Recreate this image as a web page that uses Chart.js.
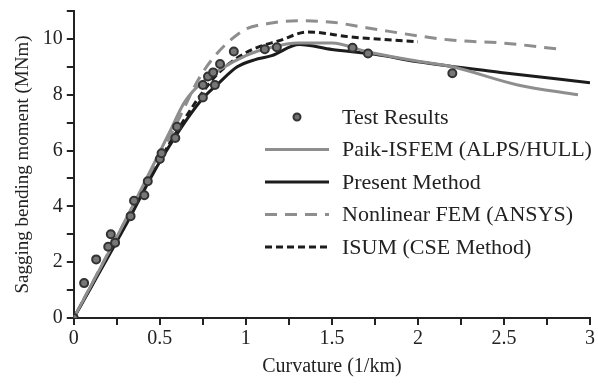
<!DOCTYPE html>
<html>
<head>
<meta charset="utf-8">
<script src="https://cdn.jsdelivr.net/npm/chart.js@4"></script>
<style>
  html, body { margin: 0; padding: 0; background: #fff; }
  #wrap { width: 598px; height: 387px; }
</style>
</head>
<body>
<div id="wrap"><canvas id="chart"></canvas></div>
<script>
// test points
const test_x = [0, 0.06, 0.13, 0.2, 0.215, 0.24, 0.33, 0.35, 0.41, 0.43, 0.5, 0.51, 0.59, 0.6, 0.75, 0.75, 0.78, 0.81, 0.82, 0.85, 0.93, 1.11, 1.18, 1.62, 1.71, 2.2];
const test_y = [0, 1.25, 2.1, 2.55, 3.0, 2.7, 3.65, 4.2, 4.4, 4.9, 5.7, 5.9, 6.45, 6.85, 7.9, 8.35, 8.65, 8.8, 8.35, 9.1, 9.55, 9.63, 9.7, 9.68, 9.48, 8.77];

const paik_x = [0, 0.3, 0.56, 0.64, 0.72, 0.85, 1.0, 1.15, 1.3, 1.5, 1.7, 1.95, 2.2, 2.58, 2.93];
const paik_y = [0, 3.5, 6.7, 7.7, 8.3, 8.9, 9.4, 9.7, 9.85, 9.85, 9.55, 9.25, 9.0, 8.35, 8.0];

const present_x = [0, 0.3, 0.5, 0.74, 0.84, 0.95, 1.05, 1.15, 1.31, 1.5, 1.75, 2.0, 2.48, 3.0];
const present_y = [0, 3.3, 5.6, 7.8, 8.4, 9.0, 9.25, 9.4, 9.8, 9.62, 9.45, 9.18, 8.8, 8.43];

const fem_x = [0, 0.3, 0.6, 0.72, 0.8, 0.9, 1.0, 1.13, 1.3, 1.5, 1.7, 2.19, 2.5, 2.81];
const fem_y = [0, 3.5, 7.0, 8.5, 9.24, 9.9, 10.35, 10.55, 10.65, 10.6, 10.4, 9.96, 9.85, 9.64];

const isum_x = [0, 0.3, 0.6, 0.8, 0.9, 1.03, 1.2, 1.36, 1.61, 2.0];
const isum_y = [0, 3.4, 6.7, 8.5, 9.1, 9.6, 9.95, 10.25, 10.07, 9.9];

const series_labels = ['Test Results', 'Paik-ISFEM (ALPS/HULL)', 'Present Method', 'Nonlinear FEM (ANSYS)', 'ISUM (CSE Method)'];

const grey = '#8e8e8e';
const dark = '#1c1c1c';
const font_family = '"Liberation Serif", "Times New Roman", serif';

function pts(xs, ys) {
    return xs.map((x, i) => ({ x: x, y: ys[i] }));
}

function line_set(label, xs, ys, color, dash) {
    return {
        label: label,
        data: pts(xs, ys),
        showLine: true,
        borderColor: color,
        borderWidth: 3,
        borderDash: dash,
        pointRadius: 0,
        cubicInterpolationMode: 'monotone',
        fill: false
    };
}

// legend drawn inside the plot area
const legend_plugin = {
    id: 'inner_legend',
    afterDraw(chart) {
        const ctx = chart.ctx;
        const sets = chart.data.datasets;
        const x0 = 265, x1 = 329, tx = 342;
        let y = 117;
        ctx.save();
        ctx.font = '22px ' + font_family;
        ctx.textBaseline = 'middle';
        sets.forEach((ds, i) => {
            if (i === 0) {
                ctx.beginPath();
                ctx.arc((x0 + x1) / 2, y, 3.5, 0, Math.PI * 2);
                ctx.fillStyle = '#707070';
                ctx.fill();
                ctx.lineWidth = 2;
                ctx.strokeStyle = '#333';
                ctx.stroke();
            } else {
                ctx.beginPath();
                ctx.setLineDash(ds.borderDash || []);
                ctx.lineWidth = 3;
                ctx.strokeStyle = ds.borderColor;
                ctx.moveTo(x0, y);
                ctx.lineTo(x1, y);
                ctx.stroke();
                ctx.setLineDash([]);
            }
            ctx.fillStyle = '#222';
            ctx.fillText(ds.label, tx, y + 1);
            y += 32.5;
        });
        ctx.restore();
    }
};

new Chart(document.getElementById('chart'), {
    type: 'scatter',
    data: {
        datasets: [
            {
                label: series_labels[0],
                data: pts(test_x, test_y),
                pointRadius: 4,
                pointBackgroundColor: '#777',
                pointBorderColor: '#333',
                pointBorderWidth: 2,
                order: 0
            },
            line_set(series_labels[1], paik_x, paik_y, grey, []),
            line_set(series_labels[2], present_x, present_y, dark, []),
            line_set(series_labels[3], fem_x, fem_y, grey, [12, 8]),
            line_set(series_labels[4], isum_x, isum_y, dark, [7, 4])
        ]
    },
    options: {
        responsive: true,
        maintainAspectRatio: false,
        animation: false,
        layout: { padding: { top: 11, right: 8, left: 12, bottom: 8 } },
        plugins: {
            legend: { display: false },
            tooltip: { enabled: false }
        },
        scales: {
            x: {
                type: 'linear',
                min: 0,
                max: 3,
                border: { color: '#222', width: 2 },
                grid: { drawOnChartArea: false, color: '#222', tickLength: 7, lineWidth: 2 },
                ticks: {
                    stepSize: 0.25,
                    autoSkip: false,
                    maxRotation: 0,
                    padding: 2,
                    color: '#222',
                    font: { family: font_family, size: 20 },
                    callback: v => (Math.abs(v * 2 - Math.round(v * 2)) < 1e-6 ? String(v) : '')
                },
                title: {
                    display: true,
                    text: 'Curvature (1/km)',
                    color: '#222',
                    padding: { top: 2, bottom: 0 },
                    font: { family: font_family, size: 20 }
                }
            },
            y: {
                min: 0,
                max: 11,
                afterFit: scale => { scale.paddingTop = 0; },
                border: { color: '#222', width: 2 },
                grid: { drawOnChartArea: false, color: '#222', tickLength: 7, lineWidth: 2 },
                ticks: {
                    stepSize: 1,
                    autoSkip: false,
                    padding: 4,
                    color: '#222',
                    font: { family: font_family, size: 20 },
                    callback: v => (v % 2 === 0 && v <= 10 ? String(v) : '')
                },
                title: {
                    display: true,
                    text: 'Sagging bending moment (MNm)',
                    color: '#222',
                    padding: { top: 0, bottom: 4 },
                    font: { family: font_family, size: 19 }
                }
            }
        }
    },
    plugins: [legend_plugin]
});
</script>
</body>
</html>
